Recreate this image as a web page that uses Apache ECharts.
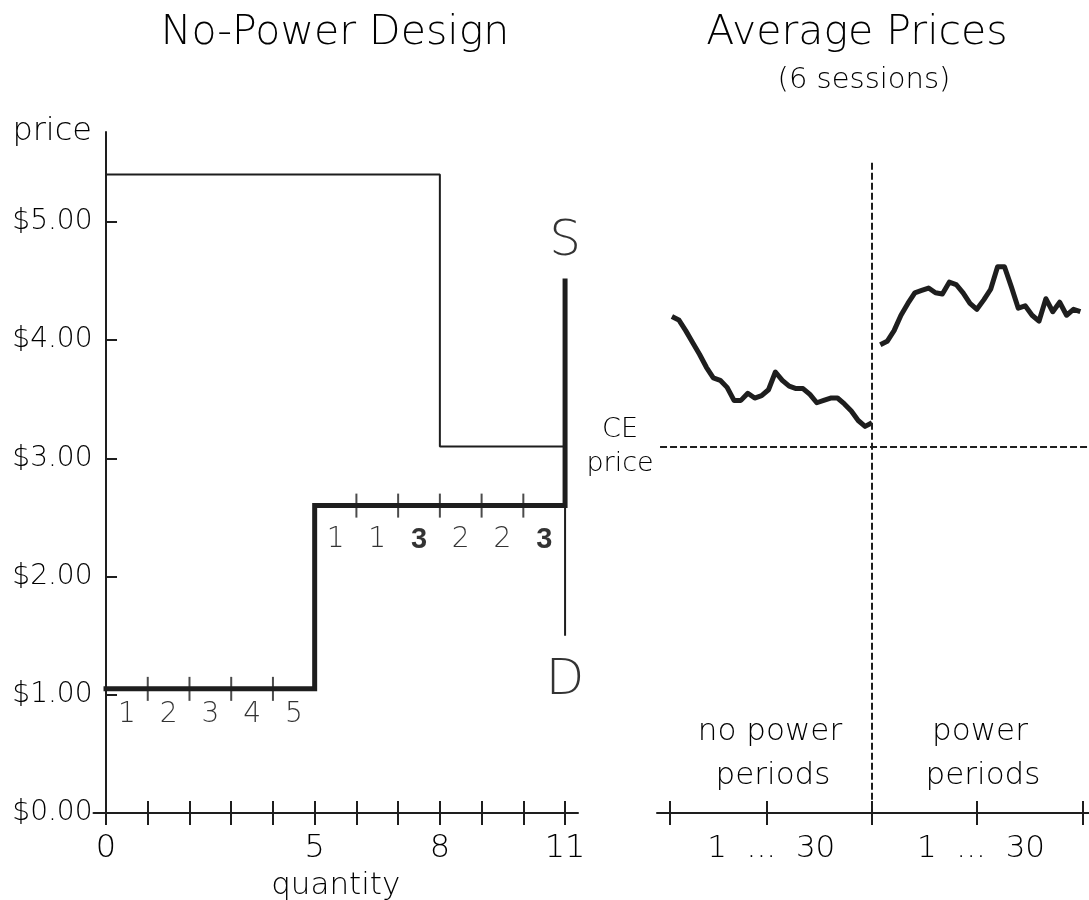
<!DOCTYPE html>
<html><head><meta charset="utf-8">
<script src="https://cdn.jsdelivr.net/npm/echarts@6/dist/echarts.min.js"></script>
<style>html,body{margin:0;padding:0;background:#fff}#c{width:1089px;height:900px}</style>
</head><body><div id="c"></div>
<script>
// ---------- data ----------
const quantityTicks = [0,1,2,3,4,5,6,7,8,9,10,11];
const quantityLabels = [0,5,8,11];
const priceTicks = [0,1,2,3,4,5];
const demandBreaks = [0,8,11];
const demandPrices = [5.40,3.10];
const demandEndPrice = 1.50;
const supplyBreaks = [0,5,11];
const supplyPrices = [1.05,2.60];
const supplyEndPrice = 4.50;
const lowUnitIds = ['1','2','3','4','5'];
const highUnitIds = ['1','1','3','2','2','3'];
const highUnitBold = [false,false,true,false,false,true];
const cePrice = 3.10;
const noPowerPrices = [4.20,4.17,4.08,3.98,3.88,3.77,3.68,3.66,3.60,3.49,3.49,3.55,3.51,3.53,3.58,3.73,3.66,3.61,3.59,3.59,3.54,3.47,3.49,3.51,3.51,3.46,3.40,3.32,3.27,3.30];
const powerPrices = [3.96,3.99,4.08,4.21,4.31,4.40,4.42,4.44,4.40,4.39,4.49,4.47,4.40,4.31,4.26,4.34,4.43,4.62,4.62,4.45,4.27,4.29,4.21,4.16,4.35,4.24,4.32,4.21,4.26,4.24];
const periodLabel = '1  ...  30';

// ---------- build ----------
const INK = '#1e1e1e';
const TXT = '#000';
const FONT = 'DejaVu Sans';
const FW = 200;

function stepPath(breaks, prices, endPrice) {
  const pts = [];
  for (let i = 0; i < prices.length; i++) {
    pts.push([breaks[i], prices[i]]);
    pts.push([breaks[i+1], prices[i]]);
  }
  pts.push([breaks[breaks.length-1], endPrice]);
  return pts;
}
function supplyAt(q) {
  for (let i = 0; i < supplyPrices.length; i++) {
    if (q >= supplyBreaks[i] && q <= supplyBreaks[i+1]) return supplyPrices[i];
  }
  return supplyPrices[supplyPrices.length-1];
}
const demandPath = stepPath(demandBreaks, demandPrices, demandEndPrice);
const supplyPath = stepPath(supplyBreaks, supplyPrices, supplyEndPrice);

const unitTicks = [];
quantityTicks.forEach(q => {
  if (q > 0 && q < 11 && !supplyBreaks.includes(q)) unitTicks.push([q, supplyAt(q)]);
});
const lowLabels = lowUnitIds.map((t, i) => ({ value: [i + 0.5, supplyPrices[0], t] }));
const highLabels = highUnitIds.map((t, i) => ({
  value: [supplyBreaks[1] + i + 0.5, supplyPrices[1], t],
  label: highUnitBold[i] ? { fontWeight: 'bold', fontFamily: 'Liberation Sans', fontSize: 29 } : {}
}));

const npData = noPowerPrices.map((p, i) => [i + 1, p]);
const pData = powerPrices.map((p, i) => [30.2 + i + 1, p]);

const axisLine = { lineStyle: { color: INK, width: 2 } };
const tickStyle = { color: INK, width: 2 };
const txt = (size, extra) => Object.assign({ color: TXT, fontFamily: FONT, fontSize: size, fontWeight: FW }, extra || {});
const gtext = (x, y, text, size) => ({ type: 'text', x, y, silent: true,
  style: { text, fill: TXT, fontFamily: FONT, fontSize: size, fontWeight: FW, align: 'center', verticalAlign: 'middle' } });

const rightTicks = [0.7, 14.8, 30, 45.2, 60.6];

const option = {
  animation: false,
  backgroundColor: '#fff',
  grid: [
    { left: 93.5, width: 484.5, top: 132, height: 681, outerBoundsMode: 'none' },
    { left: 657, width: 432, top: 132, height: 681, outerBoundsMode: 'none' }
  ],
  xAxis: [
    { gridIndex: 0, type: 'value', position: 'bottom', min: -0.3, max: 11.31, axisLine,
      axisTick: { inside: true, length: 12, lineStyle: tickStyle, customValues: quantityTicks },
      axisLabel: Object.assign(txt(32), { margin: 20, customValues: quantityLabels }),
      splitLine: { show: false },
      name: 'quantity', nameLocation: 'middle', nameGap: 57, nameTextStyle: txt(31) },
    { gridIndex: 0, type: 'value', position: 'bottom', min: -0.3, max: 11.31, axisLine: { show: false },
      axisTick: { inside: false, length: 12, lineStyle: tickStyle, customValues: quantityTicks },
      axisLabel: { show: false }, splitLine: { show: false } },
    { gridIndex: 1, type: 'value', position: 'bottom', min: -1.16, max: 61.45, axisLine,
      axisTick: { inside: true, length: 12, lineStyle: tickStyle, customValues: rightTicks },
      axisLabel: Object.assign(txt(31), { margin: 20, customValues: [15.4, 45.8], formatter: () => periodLabel }),
      splitLine: { show: false } },
    { gridIndex: 1, type: 'value', position: 'bottom', min: -1.16, max: 61.45, axisLine: { show: false },
      axisTick: { inside: false, length: 12, lineStyle: tickStyle, customValues: rightTicks },
      axisLabel: { show: false }, splitLine: { show: false } }
  ],
  yAxis: [
    { gridIndex: 0, type: 'value', min: 0, max: 5.76, axisLine: Object.assign({ onZero: true }, axisLine),
      axisTick: { inside: true, length: 11, lineStyle: tickStyle, customValues: priceTicks },
      axisLabel: Object.assign(txt(28), { margin: 1, customValues: priceTicks, formatter: v => '$' + v.toFixed(2) }),
      splitLine: { show: false },
      name: 'price', nameLocation: 'end', nameGap: 0,
      nameTextStyle: txt(32, { align: 'right', verticalAlign: 'middle', padding: [0, 14, 0, 0] }) },
    { gridIndex: 1, type: 'value', min: 0, max: 5.76, show: false }
  ],
  series: [
    { name: 'demand', type: 'line', xAxisIndex: 0, yAxisIndex: 0, data: demandPath, showSymbol: false,
      lineStyle: { color: INK, width: 2 }, silent: true },
    { name: 'supply', type: 'line', xAxisIndex: 0, yAxisIndex: 0, data: supplyPath, showSymbol: false,
      lineStyle: { color: INK, width: 5, join: 'miter', cap: 'square' }, silent: true },
    { name: 'unit ticks', type: 'scatter', xAxisIndex: 0, yAxisIndex: 0, data: unitTicks,
      symbol: 'rect', symbolSize: [2, 24], itemStyle: { color: INK }, silent: true },
    { name: 'low ids', type: 'scatter', xAxisIndex: 0, yAxisIndex: 0, data: lowLabels, symbolSize: 0, silent: true,
      label: Object.assign({ show: true, position: 'inside', offset: [0, 26], formatter: p => p.value[2] }, txt(28)) },
    { name: 'high ids', type: 'scatter', xAxisIndex: 0, yAxisIndex: 0, data: highLabels, symbolSize: 0, silent: true,
      label: Object.assign({ show: true, position: 'inside', offset: [0, 34], formatter: p => p.value[2] }, txt(28)) },
    { name: 'S/D', type: 'scatter', xAxisIndex: 0, yAxisIndex: 0, symbolSize: 0, silent: true,
      data: [
        { value: [11, supplyEndPrice, 'S'], label: { position: 'top', distance: 14 } },
        { value: [11, demandEndPrice, 'D'], label: { position: 'bottom', distance: 20 } }
      ],
      label: Object.assign({ show: true, formatter: p => p.value[2] }, txt(50)) },
    { name: 'no power', type: 'line', xAxisIndex: 2, yAxisIndex: 1, data: npData, showSymbol: false,
      lineStyle: { color: INK, width: 5, join: 'round' }, silent: true,
      markLine: {
        silent: true, symbol: ['none', 'none'], animation: false,
        lineStyle: { color: INK, width: 2, type: [7, 3] },
        label: { show: false },
        data: [
          [{ coord: [-0.72, cePrice], label: Object.assign({ show: true, position: 'start', distance: 40, align: 'center', formatter: 'CE\nprice', lineHeight: 34, padding: [6, 0, 0, 0] }, txt(27)) },
           { coord: [61.45, cePrice] }],
          [{ coord: [30, 5.5] }, { coord: [30, 0] }]
        ]
      } },
    { name: 'power', type: 'line', xAxisIndex: 2, yAxisIndex: 1, data: pData, showSymbol: false,
      lineStyle: { color: INK, width: 5, join: 'round' }, silent: true }
  ],
  graphic: [
    gtext(335, 33, 'No-Power Design', 41),
    gtext(857, 33, 'Average Prices', 41),
    gtext(864, 80, '(6 sessions)', 29),
    gtext(770, 732, 'no power', 31),
    gtext(773, 776, 'periods', 31),
    gtext(980, 732, 'power', 31),
    gtext(983, 776, 'periods', 31)
  ]
};
const chart = echarts.init(document.getElementById('c'), null, { renderer: 'canvas' });
chart.setOption(option);
</script>
</body></html>
